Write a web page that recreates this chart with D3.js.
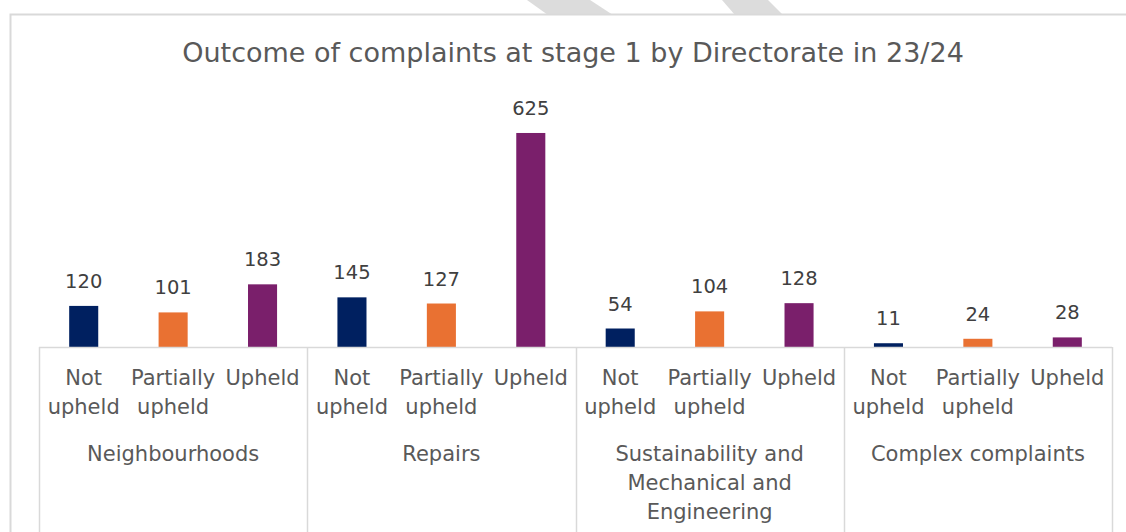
<!DOCTYPE html>
<html><head><meta charset="utf-8">
<script src="https://cdn.jsdelivr.net/npm/d3@7"></script>
<style>html,body{margin:0;padding:0;background:#fff;overflow:hidden}</style>
</head><body>
<svg id="chart" width="1126" height="532"></svg>
<script>
const groups = ["Neighbourhoods", "Repairs", "Sustainability and Mechanical and Engineering", "Complex complaints"];
const groupLabelLines = [["Neighbourhoods"], ["Repairs"], ["Sustainability and", "Mechanical and", "Engineering"], ["Complex complaints"]];
const outcomes = ["Not upheld", "Partially upheld", "Upheld"];
const outcomeLabelLines = [["Not", "upheld"], ["Partially", "upheld"], ["Upheld"]];
const notUpheld = [120, 145, 54, 11];
const partiallyUpheld = [101, 127, 104, 24];
const upheld = [183, 625, 128, 28];
const seriesValues = [notUpheld, partiallyUpheld, upheld];
const colors = ["#002060", "#E97132", "#7A1F6B"];
const title = "Outcome of complaints at stage 1 by Directorate in 23/24";

const svg = d3.select("#chart");
const font = "'DejaVu Sans', sans-serif";

// watermark fragments at top
const wm = [[[527,0],[590,0],[613,15],[548,15]], [[722,0],[768,0],[783,15],[735,15]]];
svg.selectAll("polygon.wm").data(wm).join("polygon")
  .attr("points", d => d.map(p => p.join(",")).join(" "))
  .attr("fill", "#dcdcdc");

// chart border
svg.append("path").attr("d", "M10.5,532 V14.5 H1126")
  .attr("fill", "none").attr("stroke", "#d9d9d9").attr("stroke-width", 2);

const x0 = d3.scaleBand().domain(groups).range([39, 1112]).padding(0);
const x1 = d3.scaleBand().domain(outcomes).range([0, x0.bandwidth()]).paddingInner(0.675).paddingOuter(0.3375);
const y = d3.scaleLinear().domain([0, 700]).range([347, 107.3]);

// title
svg.append("text").attr("x", 573).attr("y", 62).attr("text-anchor", "middle")
  .attr("font-family", font).attr("font-size", 27).attr("fill", "#595959").text(title);

// bars
const data = [];
groups.forEach((g, gi) => outcomes.forEach((o, oi) => data.push({g, o, oi, v: seriesValues[oi][gi]})));
svg.selectAll("rect.bar").data(data).join("rect")
  .attr("x", d => x0(d.g) + x1(d.o)).attr("width", x1.bandwidth())
  .attr("y", d => y(d.v)).attr("height", d => y(0) - y(d.v))
  .attr("fill", d => colors[d.oi]);

// value labels
svg.selectAll("text.val").data(data).join("text")
  .attr("x", d => x0(d.g) + x1(d.o) + x1.bandwidth() / 2)
  .attr("y", d => y(d.v) - 18)
  .attr("text-anchor", "middle").attr("font-family", font).attr("font-size", 19.5)
  .attr("fill", "#404040").text(d => d.v);

// axis lines
const axisColor = "#d9d9d9";
svg.append("line").attr("x1", 39).attr("x2", 1112).attr("y1", 347.5).attr("y2", 347.5)
  .attr("stroke", axisColor).attr("stroke-width", 1.5);
const ticks = groups.map(g => x0(g)).concat([x0.range()[1]]);
svg.selectAll("line.tick").data(ticks).join("line")
  .attr("x1", d => Math.round(d) + 0.5).attr("x2", d => Math.round(d) + 0.5)
  .attr("y1", 347).attr("y2", 532).attr("stroke", axisColor).attr("stroke-width", 1.5);

// outcome labels
groups.forEach(g => {
  outcomes.forEach((o, oi) => {
    const t = svg.append("text").attr("text-anchor", "middle").attr("font-family", font)
      .attr("font-size", 21).attr("fill", "#595959");
    outcomeLabelLines[oi].forEach((line, li) => {
      t.append("tspan").attr("x", x0(g) + x1(o) + x1.bandwidth() / 2).attr("y", 385 + li * 28.5).text(line);
    });
  });
});

// group labels
groups.forEach((g, gi) => {
  const t = svg.append("text").attr("text-anchor", "middle").attr("font-family", font)
    .attr("font-size", 21).attr("fill", "#595959");
  groupLabelLines[gi].forEach((line, li) => {
    t.append("tspan").attr("x", x0(g) + x0.bandwidth() / 2).attr("y", 461 + li * 29).text(line);
  });
});
</script>
</body></html>
